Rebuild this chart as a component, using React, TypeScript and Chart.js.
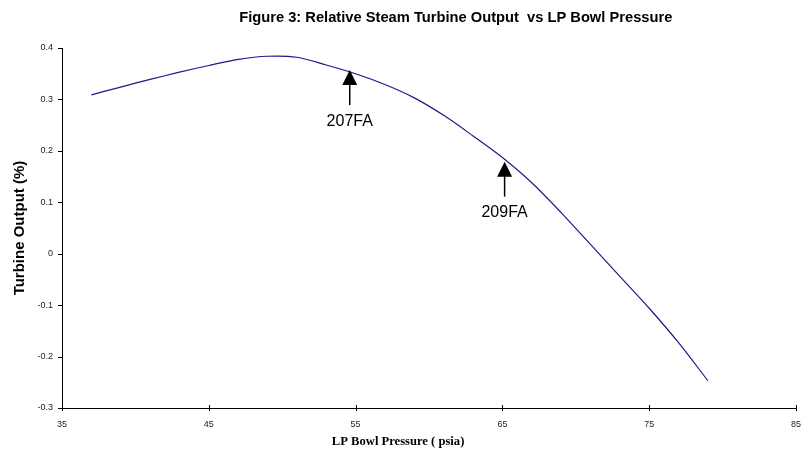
import React, { useEffect, useRef } from "react";
import { Chart, registerables } from "chart.js";

Chart.register(...registerables);

const pressure = [37, 39, 41, 43, 45, 47, 49, 51, 53, 55, 57, 59, 61, 63, 65, 67, 69, 71, 73, 75, 77, 79];
const output = [0.309, 0.324, 0.339, 0.353, 0.366, 0.378, 0.384, 0.382, 0.367, 0.35, 0.329, 0.303, 0.269, 0.229, 0.187, 0.138, 0.08, 0.018, -0.044, -0.106, -0.173, -0.247];

const annotationLabels = ["207FA", "209FA"];
const annotationX = [54.6, 65.15];
const annotationY = [0.357, 0.179];

const xTicks = [35, 45, 55, 65, 75, 85];
const yTicks = [-0.3, -0.2, -0.1, 0, 0.1, 0.2, 0.3, 0.4];

const titleText = "Figure 3: Relative Steam Turbine Output  vs LP Bowl Pressure";
const xTitle = "LP Bowl Pressure ( psia)";
const yTitle = "Turbine Output (%)";

const SANS = "'Liberation Sans', Arial, sans-serif";
const SERIF = "'Liberation Serif', 'Times New Roman', serif";

const decorPlugin = {
  id: "decor",
  afterDraw(chart: any) {
    const ctx = chart.ctx;
    const xs = chart.scales.x;
    const ys = chart.scales.y;
    const area = chart.chartArea;
    ctx.save();
    // axes
    ctx.strokeStyle = "#000";
    ctx.lineWidth = 1;
    ctx.beginPath();
    ctx.moveTo(Math.round(area.left) + 0.5, area.top);
    ctx.lineTo(Math.round(area.left) + 0.5, area.bottom);
    ctx.moveTo(area.left, Math.round(area.bottom) + 0.5);
    ctx.lineTo(area.right, Math.round(area.bottom) + 0.5);
    ctx.stroke();
    ctx.beginPath();
    for (const v of yTicks) {
      const py = Math.round(ys.getPixelForValue(v)) + 0.5;
      ctx.moveTo(area.left - 4, py);
      ctx.lineTo(area.left, py);
    }
    for (const v of xTicks) {
      const px = Math.round(xs.getPixelForValue(v)) + 0.5;
      ctx.moveTo(px, area.bottom - 3);
      ctx.lineTo(px, area.bottom + 3);
    }
    ctx.stroke();

    // arrows + labels
    annotationLabels.forEach((label, i) => {
      const px = xs.getPixelForValue(annotationX[i]);
      const py = ys.getPixelForValue(annotationY[i]);
      ctx.fillStyle = "#000";
      ctx.beginPath();
      ctx.moveTo(px, py);
      ctx.lineTo(px - 7.5, py + 15);
      ctx.lineTo(px + 7.5, py + 15);
      ctx.closePath();
      ctx.fill();
      ctx.lineWidth = 1.5;
      ctx.beginPath();
      ctx.moveTo(px, py + 14);
      ctx.lineTo(px, py + 35);
      ctx.stroke();
      ctx.font = `16px ${SANS}`;
      ctx.textAlign = "center";
      ctx.textBaseline = "middle";
      ctx.fillText(label, px, py + 51);
    });

    // titles
    ctx.fillStyle = "#000";
    ctx.textAlign = "center";
    ctx.textBaseline = "middle";
    ctx.font = `bold 14.7px ${SANS}`;
    ctx.fillText(titleText, chart.width * 0.569, 18);
    ctx.font = `bold 12.6px ${SERIF}`;
    ctx.fillText(xTitle, chart.width * 0.497, 442);
    ctx.save();
    ctx.translate(20, (area.top + area.bottom) / 2);
    ctx.rotate(-Math.PI / 2);
    ctx.font = `bold 15px ${SANS}`;
    ctx.fillText(yTitle, 0, 0);
    ctx.restore();
    ctx.restore();
  },
};

export default function App() {
  const ref = useRef<HTMLCanvasElement | null>(null);
  useEffect(() => {
    document.body.style.margin = "0";
    const canvas = ref.current!;
    const chart = new Chart(canvas, {
      type: "line",
      data: {
        datasets: [
          {
            data: pressure.map((p, i) => ({ x: p, y: output[i] })),
            borderColor: "#1a1a8c",
            borderWidth: 1.2,
            pointRadius: 0,
            fill: false,
            tension: 0.3,
          },
        ],
      },
      options: {
        animation: false,
        responsive: false,
        maintainAspectRatio: false,
        layout: { padding: { top: 48, left: 0, right: 5, bottom: 0 } },
        plugins: { legend: { display: false }, title: { display: false }, tooltip: { enabled: false } },
        scales: {
          x: {
            type: "linear",
            min: 35,
            max: 85,
            afterBuildTicks: (s: any) => {
              s.ticks = xTicks.map((v) => ({ value: v }));
            },
            afterFit: (s: any) => {
              s.height = 41;
              s.paddingLeft = 0;
              s.paddingRight = 0;
            },
            grid: { display: false, drawTicks: false },
            border: { display: false },
            ticks: {
              padding: 11,
              font: { family: SANS, size: 9 },
              color: "#222",
              maxRotation: 0,
              callback: (v: any) => String(Number(Number(v).toFixed(1))),
            },
          },
          y: {
            type: "linear",
            min: -0.3,
            max: 0.4,
            afterBuildTicks: (s: any) => {
              s.ticks = yTicks.map((v) => ({ value: v }));
            },
            afterFit: (s: any) => {
              s.width = 62;
              s.paddingTop = 0;
              s.paddingBottom = 0;
            },
            grid: { display: false, drawTicks: false },
            border: { display: false },
            ticks: {
              padding: 9,
              font: { family: SANS, size: 9 },
              color: "#222",
              callback: (v: any) => String(Number(Number(v).toFixed(1))),
            },
          },
        },
      },
      plugins: [decorPlugin],
    } as any);
    return () => chart.destroy();
  }, []);
  return <canvas ref={ref} width={801} height={449} style={{ display: "block" }} />;
}
